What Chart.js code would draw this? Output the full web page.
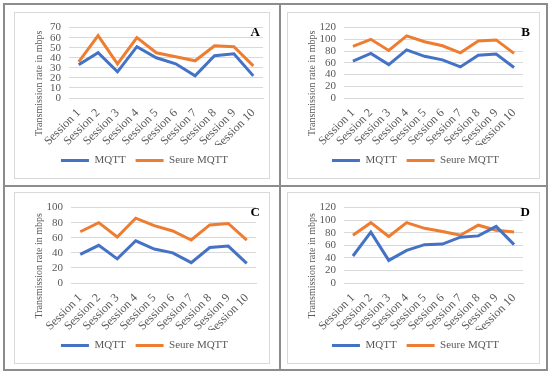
<!DOCTYPE html>
<html>
<head>
<meta charset="utf-8">
<script src="https://cdn.jsdelivr.net/npm/chart.js@4.4.1/dist/chart.umd.min.js"></script>
<style>
  body { margin: 0; background: #fff; }
  #page { position: relative; width: 550px; height: 373px; }
  .frame { position: absolute; left: 3px; top: 3px; width: 541px; height: 364px; border: 2px solid #8c8c8c; }
  .vdiv { position: absolute; left: 279px; top: 3px; width: 2px; height: 366px; background: #8c8c8c; }
  .hdiv { position: absolute; left: 3px; top: 185px; width: 543px; height: 2px; background: #8c8c8c; }
  .box { position: absolute; border: 1px solid #d9d9d9; background: #fff; }
  .box canvas { position: absolute; left: 0; top: 0; }
</style>
</head>
<body>
<div id="page">
  <div class="frame"></div>
  <div class="vdiv"></div>
  <div class="hdiv"></div>
  <div class="box" style="left:14px;top:12px;width:254px;height:165px"><canvas id="chartA" width="254" height="165"></canvas></div>
  <div class="box" style="left:287px;top:12px;width:251px;height:165px"><canvas id="chartB" width="251" height="165"></canvas></div>
  <div class="box" style="left:14px;top:192px;width:254px;height:170px"><canvas id="chartC" width="254" height="170"></canvas></div>
  <div class="box" style="left:287px;top:192px;width:251px;height:170px"><canvas id="chartD" width="251" height="170"></canvas></div>
</div>
<script>
const sessions = ['Session 1', 'Session 2', 'Session 3', 'Session 4', 'Session 5',
                  'Session 6', 'Session 7', 'Session 8', 'Session 9', 'Session 10'];

const mqttA   = [33, 45, 26, 51, 40, 34, 22, 42, 44, 22];
const secureA = [36, 62, 34, 60, 45, 41, 37, 52, 51, 32];

const mqttB   = [63, 76, 57, 82, 71, 65, 53, 73, 75, 52];
const secureB = [88, 100, 81, 106, 96, 89, 77, 97, 99, 76];

const mqttC   = [38, 50, 32, 56, 45, 40, 27, 47, 49, 26];
const secureC = [68, 80, 61, 86, 76, 69, 57, 77, 79, 57];

const mqttD   = [43, 81, 36, 52, 61, 62, 73, 75, 90, 61];
const secureD = [76, 96, 74, 96, 87, 82, 76, 92, 84, 81];

const yTitle = 'Transmission rate in mbps';

const serif = '"Liberation Serif", "Times New Roman", serif';
const textGray = '#595959';

// panel letter in the top right corner + y title centred on plot and labels (Excel style)
const panelText = {
    id: 'panelText',
    afterDraw(chart, args, opts) {
        const c = chart.ctx;
        const area = chart.chartArea;
        c.save();
        c.font = 'bold 13px ' + serif;
        c.fillStyle = '#000';
        c.textAlign = 'right';
        c.textBaseline = 'alphabetic';
        c.fillText(opts.letter, chart.width - 9, 23);

        const midY = (area.top + chart.scales.x.bottom) / 2 - 3;
        c.translate(24, midY);
        c.rotate(-Math.PI / 2);
        c.font = '10px ' + serif;
        c.fillStyle = textGray;
        c.textAlign = 'center';
        c.textBaseline = 'middle';
        c.fillText(yTitle, 0, 0);
        c.restore();
    }
};

// padLeft/padRight also set where the legend is centred, plotLeft is the gridline start
function makeChart(id, letter, mqtt, secure, yMax, yStep, padLeft, padRight, plotLeft) {
    const ctx = document.getElementById(id).getContext('2d');
    return new Chart(ctx, {
        type: 'line',
        data: {
            labels: sessions,
            datasets: [{
                label: 'MQTT',
                data: mqtt,
                borderColor: '#4472c4',
                backgroundColor: '#4472c4',
                borderWidth: 3,
                pointRadius: 0,
                tension: 0
            }, {
                label: 'Seure MQTT',
                data: secure,
                borderColor: '#ed7d31',
                backgroundColor: '#ed7d31',
                borderWidth: 3,
                pointRadius: 0,
                tension: 0
            }]
        },
        options: {
            responsive: false,
            animation: false,
            layout: { padding: { top: 10, right: padRight, bottom: 2, left: padLeft } },
            scales: {
                x: {
                    offset: true,
                    grid: { display: false },
                    border: { color: '#d9d9d9' },
                    ticks: {
                        color: textGray,
                        font: { family: serif, size: 12 },
                        maxRotation: 45,
                        minRotation: 45,
                        autoSkip: false,
                        padding: 0
                    },
                    afterFit(scale) {
                        scale.height = 47;
                        scale.paddingLeft = 0;
                        scale.paddingRight = 0;
                    }
                },
                y: {
                    min: 0,
                    max: yMax,
                    grid: { color: '#d9d9d9', drawTicks: false },
                    border: { display: false },
                    ticks: {
                        stepSize: yStep,
                        autoSkip: false,
                        color: textGray,
                        font: { family: serif, size: 11 },
                        padding: 8
                    },
                    afterFit(scale) {
                        scale.width = plotLeft - padLeft;
                    }
                }
            },
            plugins: {
                legend: {
                    position: 'bottom',
                    labels: {
                        color: textGray,
                        font: { family: serif, size: 11 },
                        boxWidth: 28,
                        boxHeight: 3,
                        padding: 10,
                        generateLabels(chart) {
                            const items = Chart.defaults.plugins.legend.labels.generateLabels(chart);
                            items.forEach(item => { item.lineWidth = 0; });
                            return items;
                        }
                    }
                },
                tooltip: { enabled: false },
                panelText: { letter: letter }
            }
        },
        plugins: [panelText]
    });
}

makeChart('chartA', 'A', mqttA, secureA, 70, 10, 11, 6, 54);
makeChart('chartB', 'B', mqttB, secureB, 120, 20, 20, 16, 56);
makeChart('chartC', 'C', mqttC, secureC, 100, 20, 18, 13, 56);
makeChart('chartD', 'D', mqttD, secureD, 120, 20, 20, 16, 56);
</script>
</body>
</html>
